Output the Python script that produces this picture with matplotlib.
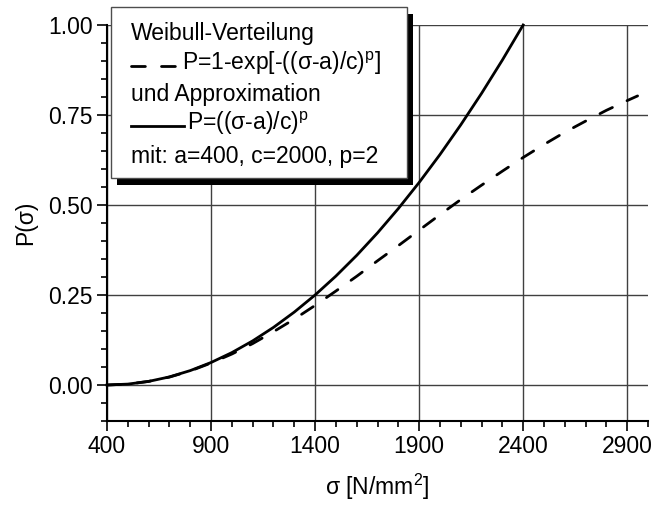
import numpy as np
import matplotlib
matplotlib.use('Agg')
import matplotlib.pyplot as plt
from matplotlib.patches import Rectangle
from matplotlib.lines import Line2D
from matplotlib.ticker import MultipleLocator

plt.rcParams['font.family'] = ['Liberation Sans', 'DejaVu Sans']
plt.rcParams['mathtext.fontset'] = 'custom'
plt.rcParams['mathtext.rm'] = 'Liberation Sans'
plt.rcParams['mathtext.it'] = 'Liberation Sans'

# values
sigma_approx = [400, 500, 600, 700, 800, 900, 1000, 1100, 1200, 1300, 1400,
                1500, 1600, 1700, 1800, 1900, 2000, 2100, 2200, 2300, 2400]
p_approx = [0.0, 0.0025, 0.01, 0.0225, 0.04, 0.0625, 0.09, 0.1225, 0.16, 0.2025, 0.25,
            0.3025, 0.36, 0.4225, 0.49, 0.5625, 0.64, 0.7225, 0.81, 0.9025, 1.0]

sigma_weibull = [400, 500, 600, 700, 800, 900, 1000, 1100, 1200, 1300, 1400,
                 1500, 1600, 1700, 1800, 1900, 2000, 2100, 2200, 2300, 2400,
                 2500, 2600, 2700, 2800, 2900, 2950]
p_weibull = [0.0, 0.0025, 0.010, 0.022, 0.039, 0.061, 0.086, 0.115, 0.148, 0.183, 0.221,
             0.261, 0.302, 0.345, 0.387, 0.430, 0.473, 0.515, 0.555, 0.594, 0.632,
             0.668, 0.702, 0.733, 0.763, 0.790, 0.803]

x_ticks = [400, 900, 1400, 1900, 2400, 2900]
y_ticks = [0.0, 0.25, 0.5, 0.75, 1.0]

W, H = 654, 505
fig = plt.figure(figsize=(W / 100, H / 100), dpi=100)
ax = fig.add_axes([107 / W, 1 - 421 / H, (648 - 107) / W, (421 - 25) / H])

lw = 2.0
dash = (5.0, 5.8)
fs = 16.5

# curves
ax.plot(sigma_weibull, p_weibull, color='black', lw=lw, linestyle=(0, dash),
        dash_capstyle='round', clip_on=False, zorder=3)
ax.plot(sigma_approx, p_approx, color='black', lw=lw, clip_on=False, zorder=3)

ax.set_xlim(400, 3000)
ax.set_ylim(-0.1, 1.0)
ax.set_xticks(x_ticks)
ax.set_yticks(y_ticks)
ax.set_yticklabels(['%.2f' % v for v in y_ticks])
ax.xaxis.set_minor_locator(MultipleLocator(100))
ax.yaxis.set_minor_locator(MultipleLocator(0.05))
ax.tick_params(which='major', direction='out', length=7, width=1.2, labelsize=fs, pad=3)
ax.tick_params(which='minor', direction='out', length=4, width=1.2)
ax.grid(True, which='major', color='0.25', lw=1.0)
for s in ['top', 'right']:
    ax.spines[s].set_visible(False)
for s in ['left', 'bottom']:
    ax.spines[s].set_linewidth(1.5)

ax.set_ylabel('P(σ)', fontsize=fs, labelpad=8)
ax.set_xlabel('σ [N/mm$^2$]', fontsize=fs, labelpad=10)


# legend box with shadow, drawn in figure pixels
def fx(px):
    return px / W


def fy(py):
    return 1 - py / H


box_l, box_t, box_r, box_b = 111, 7, 407, 178
fig.add_artist(Rectangle((fx(box_l + 6), fy(box_b + 7)), fx(box_r - box_l), (box_b - box_t) / H,
                         transform=fig.transFigure, facecolor='black', edgecolor='none', zorder=5))
fig.add_artist(Rectangle((fx(box_l), fy(box_b)), fx(box_r - box_l), (box_b - box_t) / H,
                         transform=fig.transFigure, facecolor='white', edgecolor='0.3',
                         lw=1.0, zorder=6))

tx = 131
fig.text(fx(tx), fy(33), 'Weibull-Verteilung', fontsize=fs, va='center', zorder=7)
fig.add_artist(Line2D([fx(131), fx(180)], [fy(66), fy(66)], transform=fig.transFigure,
                      color='black', lw=lw, linestyle=(0, dash), dash_capstyle='round', zorder=7))
fig.text(fx(182), fy(63), r'P=1-exp[-((σ-a)/c)$^\mathrm{p}$]', fontsize=fs, va='center', zorder=7)
fig.text(fx(tx), fy(95), 'und Approximation', fontsize=fs, va='center', zorder=7)
fig.add_artist(Line2D([fx(131), fx(184)], [fy(126), fy(126)], transform=fig.transFigure,
                      color='black', lw=lw, zorder=7))
fig.text(fx(187), fy(123), r'P=((σ-a)/c)$^\mathrm{p}$', fontsize=fs, va='center', zorder=7)
fig.text(fx(tx), fy(157), 'mit: a=400, c=2000, p=2', fontsize=fs, va='center', zorder=7)

fig.savefig('out.png', dpi=100)
